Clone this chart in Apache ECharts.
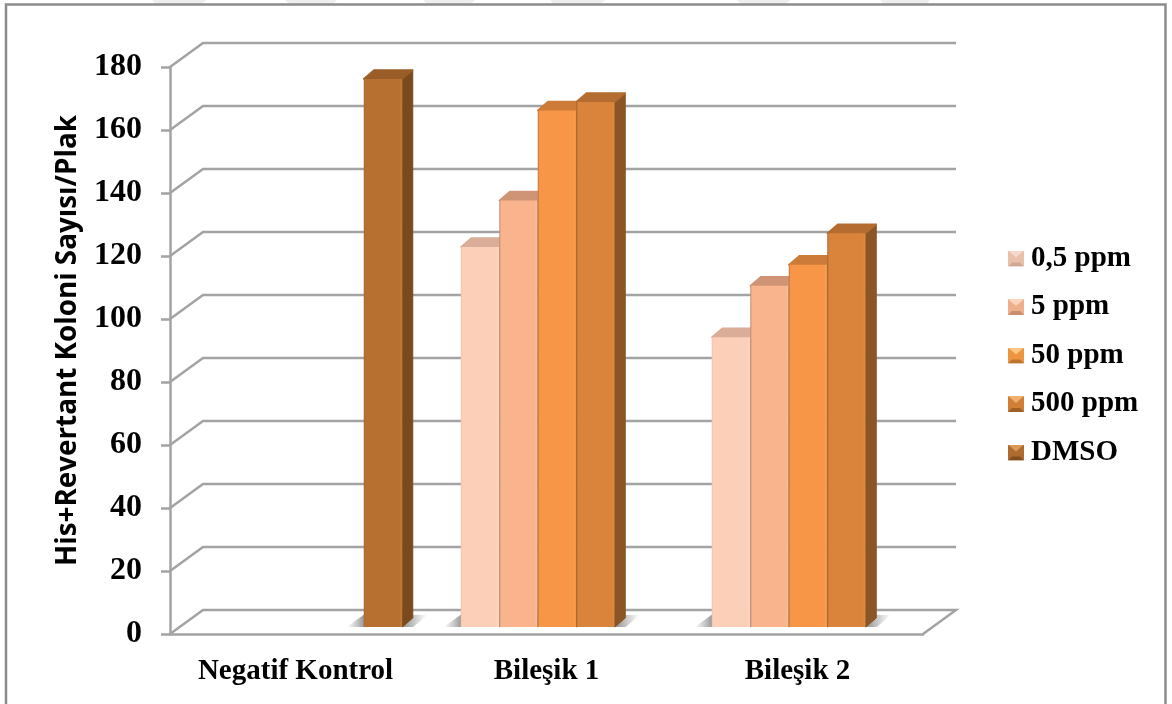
<!DOCTYPE html>
<html>
<head>
<meta charset="utf-8">
<script src="https://cdn.jsdelivr.net/npm/echarts@6/dist/echarts.min.js"></script>
<style>
  html, body { margin: 0; padding: 0; background: #fff; }
  #chart { width: 1172px; height: 704px; }
</style>
</head>
<body>
<div id="chart"></div>
<script>
// Colony counts per plate, one array per dose; null means no bar in that group.
const categories = ['Negatif Kontrol', 'Bileşik 1', 'Bileşik 2'];
const seriesNames = ['0,5 ppm', '5 ppm', '50 ppm', '500 ppm', 'DMSO'];
const ppm05 = [null, 120.6, 92];
const ppm5 = [null, 135.4, 108.3];
const ppm50 = [null, 164, 115];
const ppm500 = [null, 166.7, 125];
const dmso = [174, null, null];
const allValues = [ppm05, ppm5, ppm50, ppm500, dmso];
const yTicks = [0, 20, 40, 60, 80, 100, 120, 140, 160, 180];

// front, left edge, right edge, side face, top face
const palettes = [
  { front: '#fccfb8', edgeL: '#f3c4ad', edgeR: '#fdd8c5', side: '#b08c7a', top: '#d9ad97', icon: ['#f7d9cb', '#e8c0ab', '#d2a893'] },
  { front: '#f9b48e', edgeL: '#b98a70', edgeR: '#fbbd9a', side: '#a67858', top: '#cf9475', icon: ['#fbd6bd', '#eeaf8b', '#c98e6c'] },
  { front: '#f79646', edgeL: '#b8753c', edgeR: '#fba050', side: '#a8652c', top: '#cc7c38', icon: ['#fbc684', '#ed9440', '#b97430'] },
  { front: '#d9833b', edgeL: '#a3652f', edgeR: '#e08a40', side: '#8b5526', top: '#b56c30', icon: ['#eeb06c', '#d27f36', '#9c6029'] },
  { front: '#b87031', edgeL: '#ab682d', edgeR: '#c27a38', side: '#7a491e', top: '#9a5d28', icon: ['#d89a58', '#b06c2e', '#7f4f20'] }
];

// 3D projection offsets of the chart box and of the bars inside it
const WALL_DX = 33, WALL_DY = -24;
const BAR_DX = 10.5, BAR_DY = -9, BASE_LIFT = 7;
const SLOT = 38.5, GROUP_SHIFT = 10.5;
const AXIS_GREY = '#a3a3a3';

const chart = echarts.init(document.getElementById('chart'), null, { renderer: 'canvas' });

function slotLeft(api, catIndex, slot) {
  const cx = api.coord([catIndex, 0])[0];
  return cx + GROUP_SHIFT + (slot - 2.5) * SLOT;
}

// Back wall lines, side wall diagonals and the floor outline
function renderWall(params, api) {
  const tick = api.value(0);
  const sys = params.coordSys;
  const y = api.coord([0, tick])[1];
  const left = sys.x, right = sys.x + sys.width;
  const points = [[left, y], [left + WALL_DX, y + WALL_DY], [right + WALL_DX, y + WALL_DY]];
  if (tick === 0) points.push([right, y]);
  return { type: 'polyline', shape: { points }, style: { stroke: AXIS_GREY, lineWidth: 2.5, fill: null } };
}

// Soft shadow lying on the floor under each bar group, fading out at both ends
function renderShadow(params, api) {
  const cat = api.value(0);
  const base = api.coord([cat, 0])[1] - BASE_LIFT;
  const x0 = slotLeft(api, cat, api.value(1)) - 17;
  const x1 = slotLeft(api, cat, api.value(2)) + SLOT + 25;
  const span = x1 - x0;
  return {
    type: 'polygon',
    shape: { points: [[x0, base], [x0 + 18, base - 13], [x1, base - 12], [x1 - 14, base]] },
    style: {
      fill: new echarts.graphic.LinearGradient(0, 0, 1, 0, [
        { offset: 0, color: 'rgba(140,140,140,0)' },
        { offset: 18 / span, color: 'rgba(120,120,120,0.8)' },
        { offset: 1 - 24 / span, color: 'rgba(120,120,120,0.8)' },
        { offset: 1, color: 'rgba(140,140,140,0)' }
      ])
    }
  };
}

// One bar drawn as front, side and top faces
function makeBarRenderer(seriesIndex) {
  const pal = palettes[seriesIndex];
  return function (params, api) {
    const cat = api.value(0);
    const p = api.coord([cat, api.value(1)]);
    const zero = api.coord([cat, 0]);
    const x0 = slotLeft(api, cat, seriesIndex);
    const x1 = x0 + SLOT;
    const yTop = p[1] - BASE_LIFT;
    const yBase = zero[1] - BASE_LIFT;
    const k = 3 / SLOT;
    return {
      type: 'group',
      children: [
        {
          type: 'polygon',
          shape: { points: [[x1, yTop], [x1 + BAR_DX, yTop + BAR_DY], [x1 + BAR_DX, yBase + BAR_DY], [x1, yBase]] },
          style: { fill: pal.side, stroke: pal.side, lineWidth: 1, lineJoin: 'round' }
        },
        {
          type: 'polygon',
          shape: { points: [[x0, yTop], [x0 + BAR_DX, yTop + BAR_DY], [x1 + BAR_DX, yTop + BAR_DY], [x1, yTop]] },
          style: { fill: pal.top, stroke: pal.top, lineWidth: 1.5, lineJoin: 'round' }
        },
        {
          type: 'rect',
          shape: { x: x0, y: yTop, width: SLOT, height: yBase - yTop },
          style: {
            fill: new echarts.graphic.LinearGradient(0, 0, 1, 0, [
              { offset: 0, color: pal.edgeL },
              { offset: k * 0.6, color: pal.front },
              { offset: 1 - k, color: pal.front },
              { offset: 1 - k * 0.3, color: pal.edgeR },
              { offset: 1, color: pal.edgeL }
            ])
          }
        }
      ]
    };
  };
}

// Bevelled legend swatch: light top, mid sides, dark bottom
function legendIcon(pal) {
  const svg = '<svg xmlns="http://www.w3.org/2000/svg" width="16" height="16">' +
    '<rect width="16" height="16" fill="' + pal.icon[1] + '"/>' +
    '<polygon points="0,0 16,0 8,7" fill="' + pal.icon[0] + '"/>' +
    '<polygon points="0,16 16,16 12,12 4,12" fill="' + pal.icon[2] + '"/>' +
    '</svg>';
  return 'image://data:image/svg+xml;charset=utf-8,' + encodeURIComponent(svg);
}

const barSeries = allValues.map((vals, i) => ({
  name: seriesNames[i],
  type: 'custom',
  z: 3,
  clip: false,
  renderItem: makeBarRenderer(i),
  encode: { x: 0, y: 1 },
  itemStyle: { color: palettes[i].front },
  data: vals.map((v, c) => (v === null ? null : [c, v])).filter(Boolean)
}));

// First and last occupied slot of each group, taken from the value arrays
const shadowData = categories.map((_, c) => {
  const used = allValues.map((vals, i) => (vals[c] === null ? -1 : i)).filter(i => i >= 0);
  return [c, used[0], used[used.length - 1]];
});

// Pale slanted tabs showing above the page frame
const tabSpans = [[152, 206], [285, 337], [423, 475], [550, 605], [737, 790], [880, 930]];
const tabs = tabSpans.map(([a, b]) => ({
  type: 'polygon',
  silent: true,
  z: -20,
  shape: { points: [[a, 0], [b, 0], [b - 5, 5], [a + 5, 5]] },
  style: { fill: '#eeeeee' }
}));

chart.setOption({
  animation: false,
  backgroundColor: '#ffffff',
  grid: { left: 170, top: 67, width: 753, height: 567 },
  legend: {
    orient: 'vertical',
    left: 1003,
    top: 239,
    itemWidth: 16,
    itemHeight: 16,
    itemGap: 19.5,
    selectedMode: false,
    textStyle: {
      fontFamily: '"Liberation Serif"',
      fontWeight: 'bold',
      fontSize: 29,
      color: '#000',
      padding: [0, 0, 0, 2]
    },
    data: seriesNames.map((name, i) => ({ name, icon: legendIcon(palettes[i]) }))
  },
  xAxis: {
    type: 'category',
    data: categories,
    axisLine: { show: true, lineStyle: { color: AXIS_GREY, width: 2.5 } },
    axisTick: { show: false },
    axisLabel: {
      margin: 23,
      interval: 0,
      color: '#000',
      fontFamily: '"Liberation Serif"',
      fontWeight: 'bold',
      fontSize: 29
    }
  },
  yAxis: {
    type: 'value',
    min: 0,
    max: 180,
    interval: 20,
    name: 'His+Revertant Koloni Sayısı/Plak',
    nameLocation: 'middle',
    nameGap: 88,
    nameRotate: 90,
    nameTextStyle: {
      color: '#000',
      fontFamily: '"Open Sans"',
      fontWeight: 'bold',
      fontSize: 27.8,
      padding: [0, 0, 0, 20]
    },
    splitLine: { show: false },
    axisLine: { show: true, lineStyle: { color: AXIS_GREY, width: 2.5 } },
    axisTick: { show: true, length: 9, lineStyle: { color: AXIS_GREY, width: 2.5 } },
    axisLabel: {
      margin: 28,
      color: '#000',
      fontFamily: '"Liberation Serif"',
      fontWeight: 'bold',
      fontSize: 32,
      padding: [2, 0, 0, 0]
    }
  },
  graphic: tabs.concat([{
    type: 'rect',
    silent: true,
    z: -10,
    shape: { x: 6, y: 4.5, width: 1159.5, height: 720 },
    style: { fill: '#fff', stroke: '#8c8c8c', lineWidth: 2.5 }
  }]),
  series: [
    {
      type: 'custom',
      z: 1,
      clip: false,
      silent: true,
      renderItem: renderWall,
      encode: { y: 0 },
      data: yTicks.map(t => [t])
    },
    {
      type: 'custom',
      z: 2,
      clip: false,
      silent: true,
      renderItem: renderShadow,
      encode: { x: 0 },
      data: shadowData
    },
    ...barSeries
  ]
});
</script>
</body>
</html>
